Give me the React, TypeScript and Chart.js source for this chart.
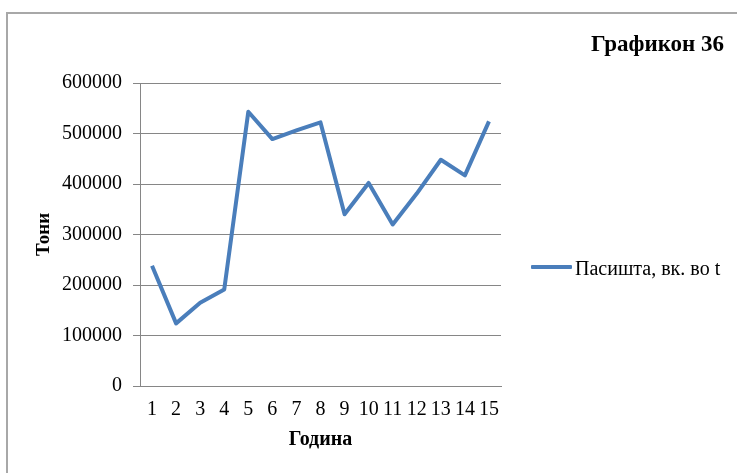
import React, { useEffect, useRef } from "react";
import { Chart, registerables } from "chart.js";

Chart.register(...registerables);

const years = ["1", "2", "3", "4", "5", "6", "7", "8", "9", "10", "11", "12", "13", "14", "15"];
const pastureTons = [238000, 124000, 165000, 191000, 543000, 489000, 506000, 522000, 340000, 402000, 320000, 381000, 448000, 417000, 524000];
const seriesLabel = "Пасишта, вк. во t";
const chartTitle = "Графикон 36";
const xTitle = "Година";
const yTitle = "Тони";

const FONT = "'Liberation Serif', 'Times New Roman', serif";
const LINE_COLOR = "#4A7EBB";
const GRID_COLOR = "#868686";

export default function App() {
  const canvasRef = useRef<HTMLCanvasElement | null>(null);

  useEffect(() => {
    if (!canvasRef.current) return;
    const chart = new Chart(canvasRef.current, {
      type: "line",
      data: {
        labels: years,
        datasets: [
          {
            label: seriesLabel,
            data: pastureTons,
            borderColor: LINE_COLOR,
            backgroundColor: LINE_COLOR,
            borderWidth: 4,
            pointRadius: 0,
            pointHoverRadius: 0,
            tension: 0,
            borderJoinStyle: "round",
            borderCapStyle: "butt",
            fill: false,
          },
        ],
      },
      options: {
        responsive: false,
        animation: false,
        events: [],
        layout: { padding: { left: 0, top: 83, right: 236, bottom: 0 } },
        plugins: {
          legend: { display: false },
          title: { display: false },
          tooltip: { enabled: false },
        },
        scales: {
          x: {
            type: "category",
            offset: true,
            grid: { display: false, drawTicks: false },
            border: { display: true, color: GRID_COLOR, width: 1 },
            ticks: {
              color: "#000",
              font: { family: FONT, size: 20 },
              padding: 12,
              maxRotation: 0,
              autoSkip: false,
            },
            title: {
              display: true,
              text: xTitle,
              color: "#000",
              font: { family: FONT, size: 20, weight: "bold" },
              padding: { top: 0, bottom: 21 },
            },
            afterFit: (scale: any) => {
              scale.height = 87;
            },
          },
          y: {
            min: 0,
            max: 600000,
            grid: {
              color: GRID_COLOR,
              lineWidth: 1,
              drawTicks: true,
              tickLength: 7,
            },
            border: { display: true, color: GRID_COLOR, width: 1 },
            ticks: {
              stepSize: 100000,
              color: "#000",
              font: { family: FONT, size: 20 },
              padding: 11,
              callback: (v: any) => String(v),
            },
            title: {
              display: true,
              text: yTitle,
              color: "#000",
              font: { family: FONT, size: 19, weight: "bold" },
              padding: { top: 33, bottom: 0 },
            },
            afterFit: (scale: any) => {
              scale.width = 140;
            },
          },
        },
      },
    });
    return () => chart.destroy();
  }, []);

  return (
    <div
      style={{
        position: "fixed",
        left: 0,
        top: 0,
        width: 737,
        height: 473,
        background: "#fff",
        overflow: "hidden",
      }}
    >
      <div
        style={{
          position: "absolute",
          left: 6,
          top: 12,
          width: 800,
          height: 600,
          border: "2px solid #a8a8a8",
          boxSizing: "border-box",
        }}
      />
      <canvas
        ref={canvasRef}
        width={737}
        height={473}
        style={{ position: "absolute", left: 0, top: 0, width: 737, height: 473 }}
      />
      <div
        style={{
          position: "absolute",
          left: 591,
          top: 32,
          fontFamily: FONT,
          fontSize: 23,
          fontWeight: "bold",
          lineHeight: 1,
          whiteSpace: "nowrap",
          color: "#000",
        }}
      >
        {chartTitle}
      </div>
      <div
        style={{
          position: "absolute",
          left: 531,
          top: 265,
          width: 41,
          height: 4,
          background: LINE_COLOR,
          borderRadius: 1,
        }}
      />
      <div
        style={{
          position: "absolute",
          left: 575,
          top: 258,
          fontFamily: FONT,
          fontSize: 20,
          lineHeight: 1,
          whiteSpace: "nowrap",
          color: "#000",
        }}
      >
        {seriesLabel}
      </div>
    </div>
  );
}
